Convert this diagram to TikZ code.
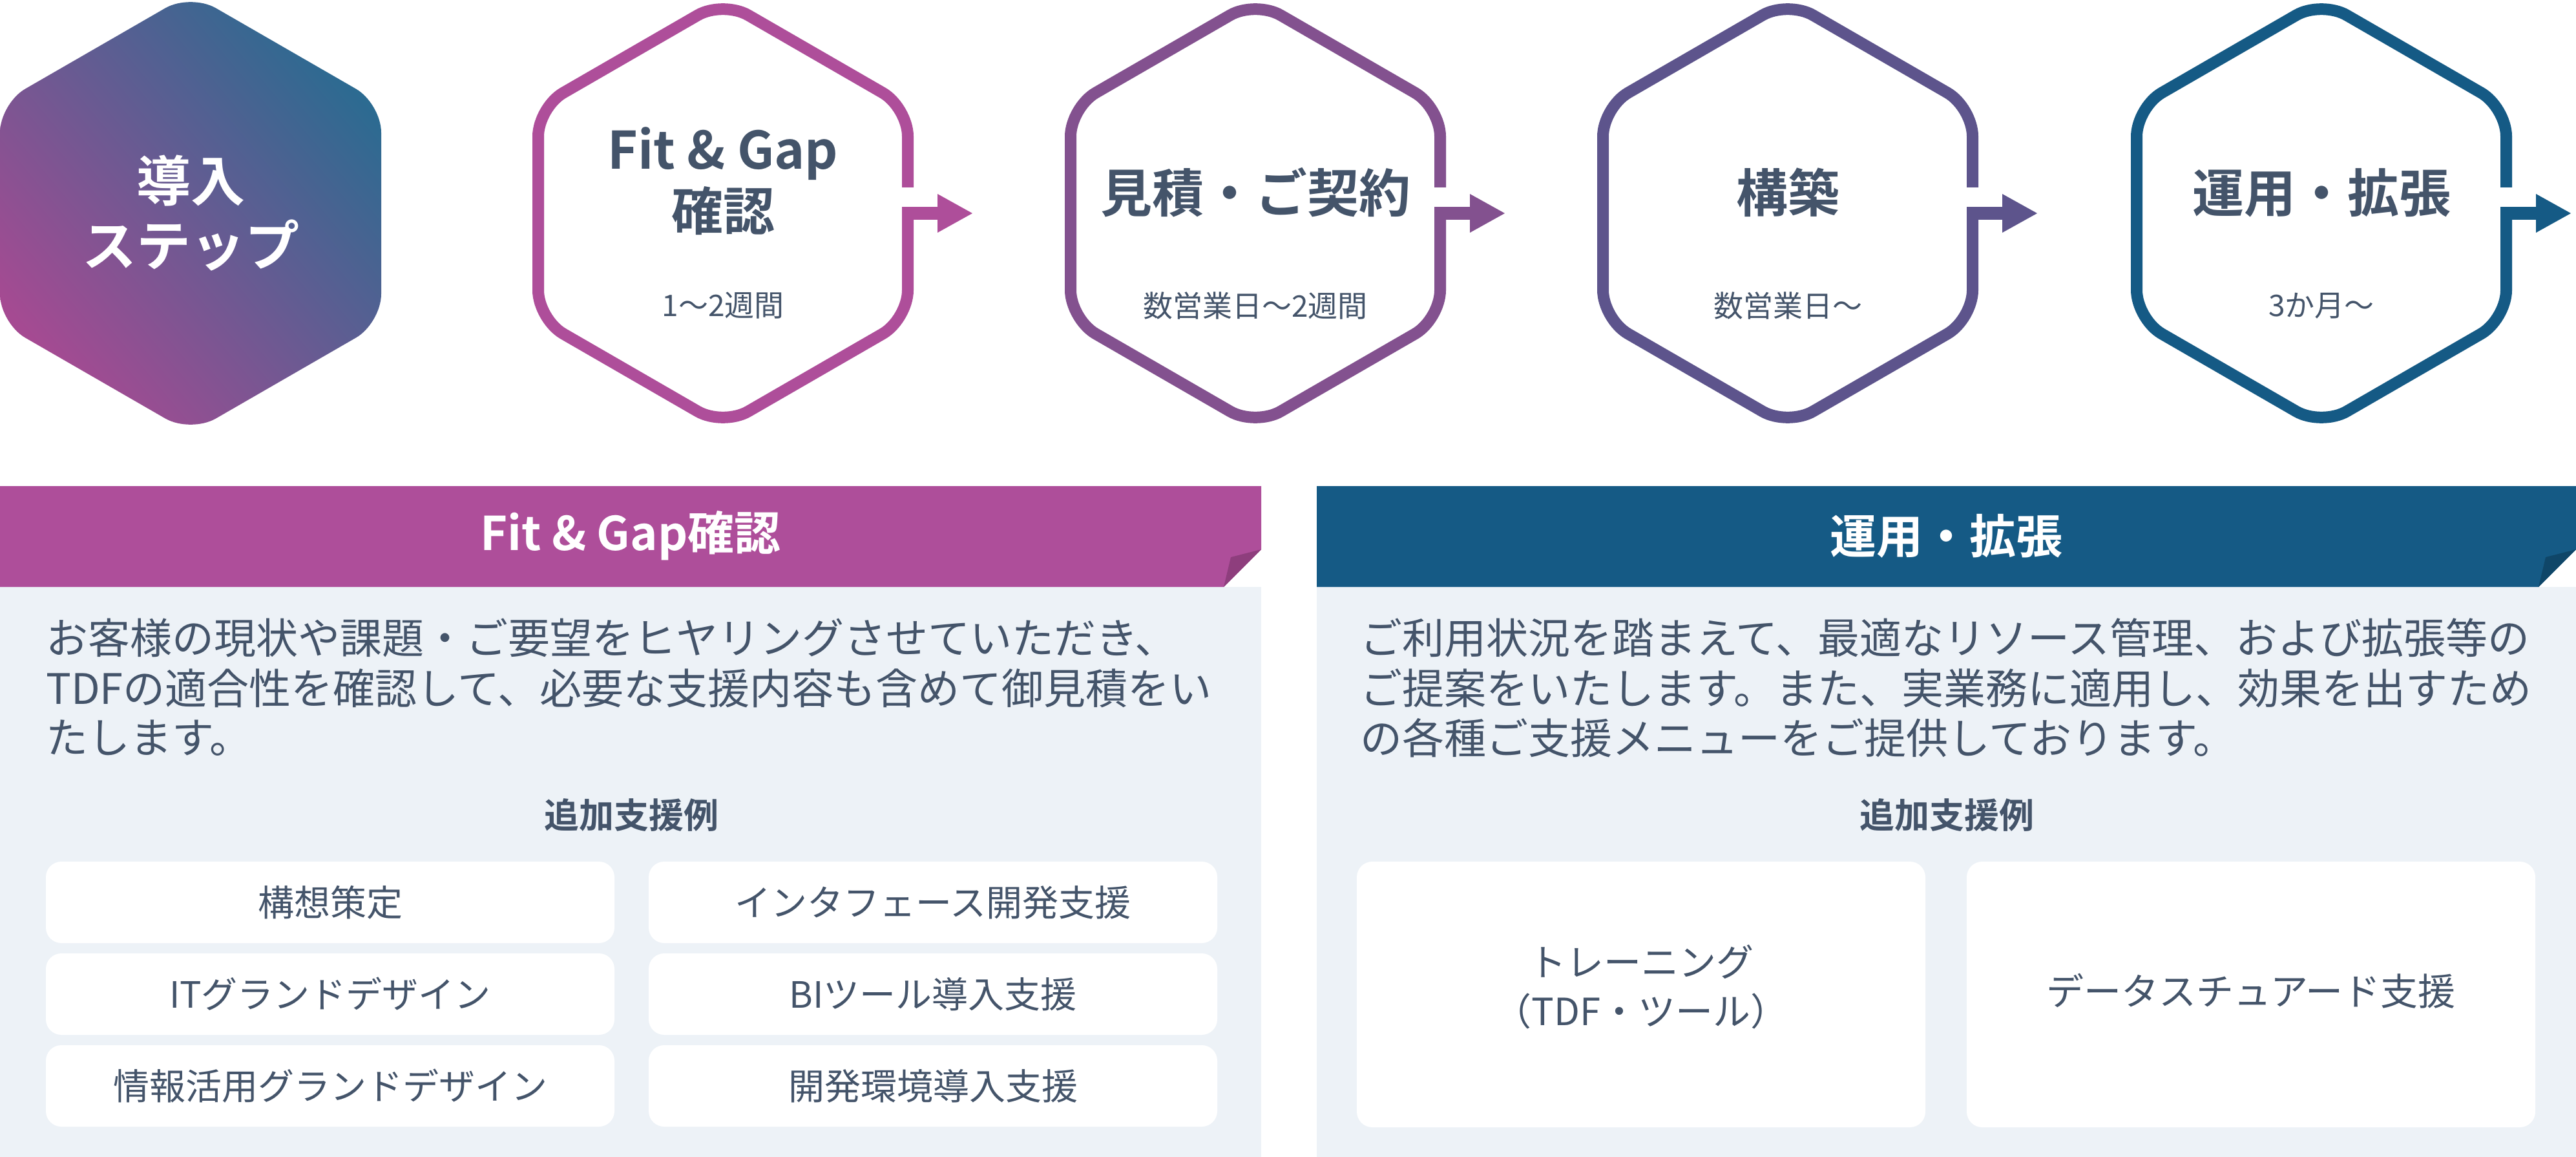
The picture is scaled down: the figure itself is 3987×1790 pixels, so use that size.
\documentclass[tikz,border=0pt]{standalone}
\usepackage{fontspec}
\setmainfont{Noto Sans CJK JP}
\newfontfamily\jpb{Noto Sans CJK JP Bold}
\begin{document}
\begin{tikzpicture}[x=1pt,y=-1pt,
  hexline/.style={line width=18pt,rounded corners=45pt},
  txt/.style={text=tdark,inner sep=0pt},
  wbox/.style={fill=white,rounded corners=24pt},
  boxtxt/.style={txt,font=\fontsize{56}{60}\selectfont},
  bodytxt/.style={txt,anchor=west,font=\fontsize{65}{70}\selectfont},
  ]
\definecolor{tdark}{HTML}{44546A}
\definecolor{cA}{HTML}{AE4E9A}
\definecolor{cB}{HTML}{83518F}
\definecolor{cC}{HTML}{5D548C}
\definecolor{cD}{HTML}{155A85}
\definecolor{panel}{HTML}{EDF2F7}
\definecolor{foldA}{HTML}{8E3E7D}
\definecolor{foldB}{HTML}{0F4668}
\useasboundingbox (0,0) rectangle (3987,1790);
% hex 1
\shade[bottom color=cA!95!black,top color=cD!90, shading angle=-50, rounded corners=45pt]
  (295,-10) -- (590,160) -- (590,500) -- (295,670) -- (0,500) -- (0,160) -- cycle;
\node[inner sep=0pt,align=center,text=white,font=\jpb\fontsize{84}{100}\selectfont] (h1) at (295,330) {導入\\ステップ};
% outlined hexes
\foreach \cx/\col/\nm in {1119/cA/h2,1943/cB/h3,2767/cC/h4,3593/cD/h5}{
  \draw[hexline,draw=\col] (\cx,1) -- (\cx+286,166) -- (\cx+286,494) -- (\cx,659) -- (\cx-286,494) -- (\cx-286,166) -- cycle;
  \fill[white] (\cx+270,290) rectangle (\cx+300,320);
  \draw[line width=18pt,draw=\col,line cap=round] (\cx+286,270) -- (\cx+286,280);
  \draw[line width=20pt,draw=\col] (\cx+277,330) -- (\cx+333,330);
  \fill[\col] (\cx+332,300) -- (\cx+386,330) -- (\cx+332,360) -- cycle;
  \coordinate (\nm) at (\cx,330);
}
\node[txt,align=center,font=\jpb\fontsize{80}{95}\selectfont] (t2) at (1119,280) {Fit \& Gap\\確認};
\node[txt,font=\fontsize{46}{50}\selectfont] (s2) at (1119,473) {1〜2週間};
\node[txt,font=\jpb\fontsize{80}{95}\selectfont] (t3) at (1943,298) {見積・ご契約};
\node[txt,font=\fontsize{46}{50}\selectfont] (s3) at (1943,473) {数営業日〜2週間};
\node[txt,font=\jpb\fontsize{80}{95}\selectfont] (t4) at (2767,298) {構築};
\node[txt,font=\fontsize{46}{50}\selectfont] (s4) at (2767,473) {数営業日〜};
\node[txt,font=\jpb\fontsize{80}{95}\selectfont] (t5) at (3593,298) {運用・拡張};
\node[txt,font=\fontsize{46}{50}\selectfont] (s5) at (3593,473) {3か月〜};
% panels
\fill[panel] (0,908) rectangle (1952,1790);
\fill[panel] (2038,908) rectangle (3987,1790);
\fill[cA] (0,752) -- (1952,752) -- (1952,850) -- (1894,908) -- (0,908) -- cycle;
\fill[foldA] (1894,908) -- (1905,862) -- (1952,850) -- cycle;
\fill[cD] (2038,752) -- (3987,752) -- (3987,850) -- (3929,908) -- (2038,908) -- cycle;
\fill[foldB] (3929,908) -- (3940,862) -- (3987,850) -- cycle;
\node[inner sep=0pt,text=white,font=\jpb\fontsize{72}{80}\selectfont] (p1) at (976,829) {Fit \& Gap確認};
\node[inner sep=0pt,text=white,font=\jpb\fontsize{72}{80}\selectfont] (p2) at (3012,829) {運用・拡張};
% left body
\node[bodytxt] (l1) at (71,987) {お客様の現状や課題・ご要望をヒヤリングさせていただき、};
\node[bodytxt] (l2) at (71,1065) {TDFの適合性を確認して、必要な支援内容も含めて御見積をい};
\node[bodytxt] (l3) at (71,1142) {たします。};
\node[txt,font=\jpb\fontsize{54}{60}\selectfont] (a1) at (977,1261) {追加支援例};
\foreach \x/\y/\t/\nm in {511/1396/構想策定/b1,1444/1396/インタフェース開発支援/b2,511/1538/ITグランドデザイン/b3,1444/1538/BIツール導入支援/b4,511/1680/情報活用グランドデザイン/b5,1444/1680/開発環境導入支援/b6}{
  \fill[wbox] (\x-440,\y-63) rectangle (\x+440,\y+63);
  \node[boxtxt] (\nm) at (\x,\y) {\t};
}
% right body
\node[bodytxt] (r1) at (2105,987) {ご利用状況を踏まえて、最適なリソース管理、および拡張等の};
\node[bodytxt] (r2) at (2105,1065) {ご提案をいたします。また、実業務に適用し、効果を出すため};
\node[bodytxt] (r3) at (2105,1142) {の各種ご支援メニューをご提供しております。};
\node[txt,font=\jpb\fontsize{54}{60}\selectfont] (a2) at (3013,1261) {追加支援例};
\fill[wbox] (2100,1333) rectangle (2980,1744);
\fill[wbox] (3044,1333) rectangle (3924,1744);
\node[boxtxt,align=center,font=\fontsize{58}{76}\selectfont] (c1) at (2540,1527) {トレーニング\\（TDF・ツール）};
\node[boxtxt,font=\fontsize{58}{76}\selectfont] (c2) at (3484,1533) {データスチュアード支援};
\end{tikzpicture}
\end{document}
